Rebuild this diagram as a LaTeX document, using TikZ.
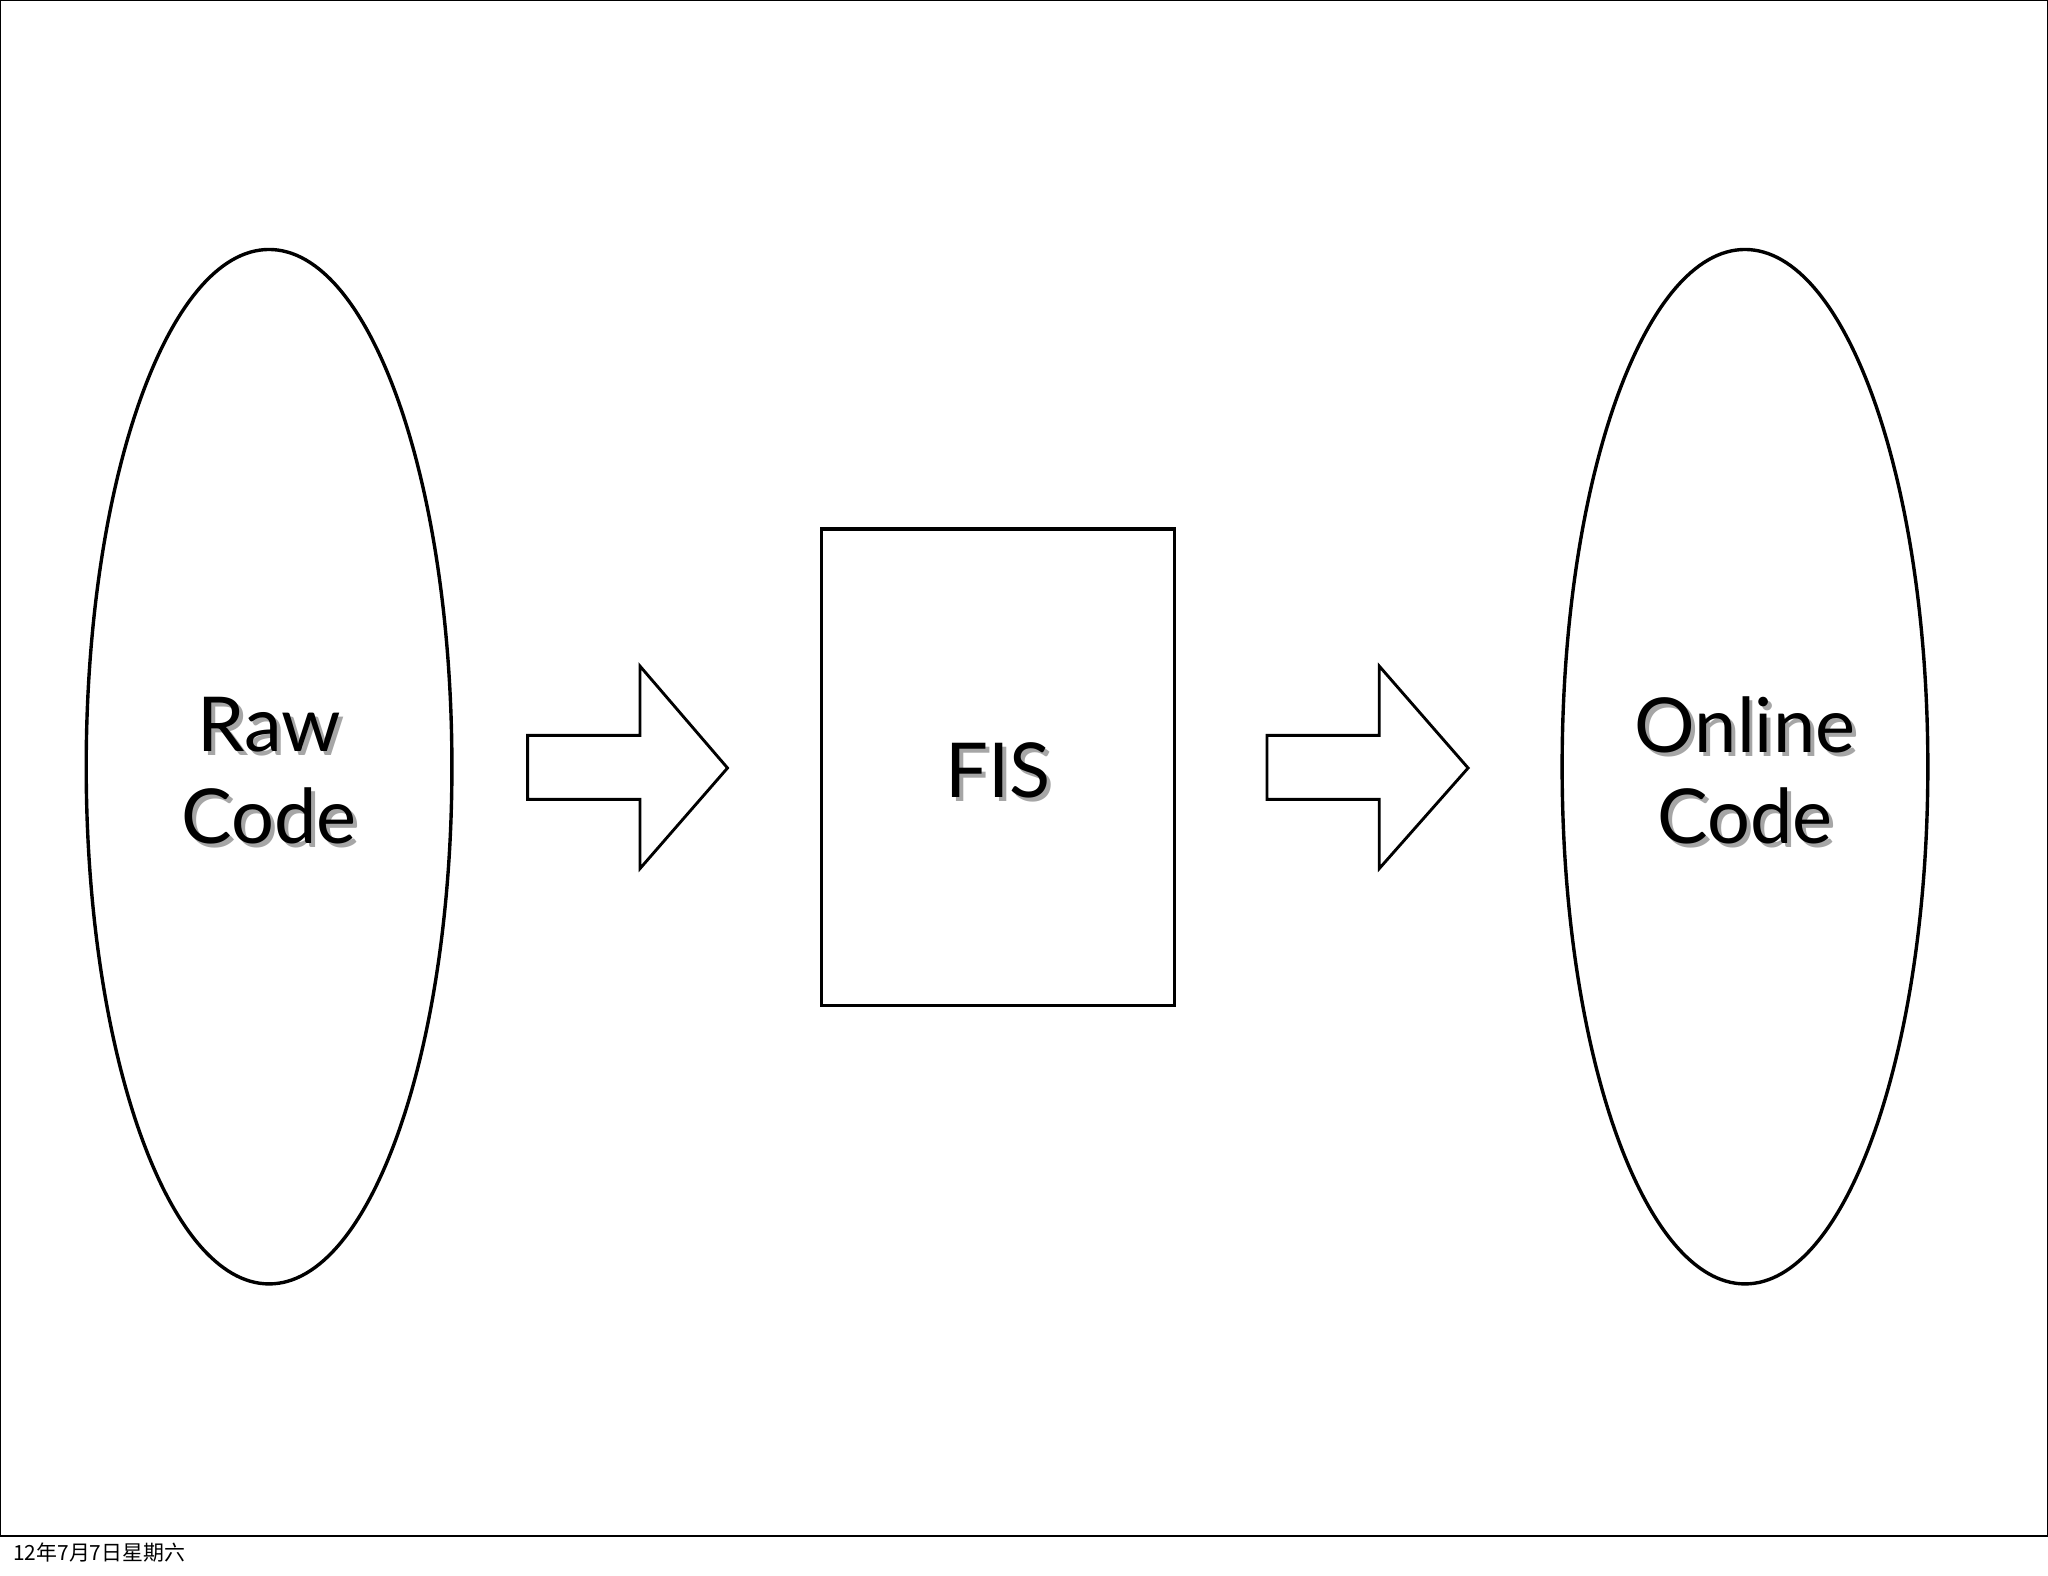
\documentclass[tikz,border=0pt]{standalone}
\usepackage{fontspec}
\setmainfont{Lato}
\newfontfamily\cjk{Noto Sans CJK SC}
\usetikzlibrary{shapes.geometric}
\begin{document}
\begin{tikzpicture}[x=1pt,y=-1pt,
  shp/.style={draw,line width=2.6pt},
  lbl/.style={font=\fontsize{58}{70}\selectfont,align=center,text=black},
  shd/.style={font=\fontsize{58}{70}\selectfont,align=center,text=black!35}]
\useasboundingbox (0,0) rectangle (1568,1206);
\fill[white] (0,0) rectangle (1568,1206);
\draw[line width=1pt] (0,0) rectangle (1568,1176);
\node[shp,ellipse,minimum width=280pt,minimum height=792pt,inner sep=0pt] (raw) at (206,587) {};
\node[shp,ellipse,minimum width=280pt,minimum height=792pt,inner sep=0pt] (onl) at (1336,587) {};
\node[shp,rectangle,minimum width=270pt,minimum height=365pt,inner sep=0pt] (fis) at (764,587.5) {};
\node[shd] at (209,593) {Raw\\Code};
\node[lbl] (rawt) at (206,590) {Raw\\Code};
\node[shd] at (767,593) {FIS};
\node[lbl] (fist) at (764,590) {FIS};
\node[shd] at (1339,593) {Online\\Code};
\node[lbl] (onlt) at (1336,590) {Online\\Code};
\draw[shp,line width=2.2pt] (404,563) -- (490,563) -- (490,510) -- (557,588) -- (490,665) -- (490,612) -- (404,612) -- cycle;
\draw[shp,line width=2.2pt] (970,563) -- (1056,563) -- (1056,510) -- (1124,588) -- (1056,665) -- (1056,612) -- (970,612) -- cycle;
\node[anchor=west,inner sep=0pt,font=\cjk\fontsize{16}{18}\selectfont] (date) at (10,1189) {12年7月7日星期六};
\end{tikzpicture}
\end{document}
